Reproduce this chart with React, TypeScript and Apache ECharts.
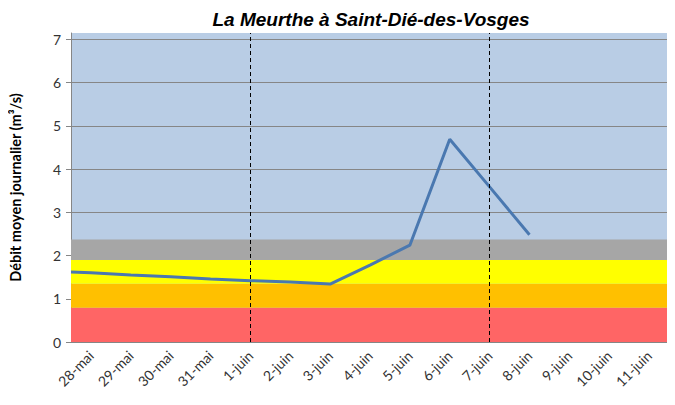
import React, { useEffect, useRef } from "react";
import * as echarts from "echarts";

const days = ["28-mai","29-mai","30-mai","31-mai","1-juin","2-juin","3-juin","4-juin","5-juin","6-juin","7-juin","8-juin","9-juin","10-juin","11-juin"];
// daily mean flow (m3/s) at each day; null = no data yet
const flow: (number | null)[] = [1.6, 1.55, 1.51, 1.46, 1.42, 1.39, 1.34, 1.78, 2.24, 4.69, 3.59, 2.48, null, null, null];
// value of the line where it enters the plot on the left edge
const flowLeftEdge = 1.62;
const yTicks = [0, 1, 2, 3, 4, 5, 6, 7];
const yTop = 7.15;
const bandLimits = [0, 0.79, 1.35, 1.9, 2.37];
const bandColors = ["#FF6565", "#FFC000", "#FFFF00", "#A6A6A6"];
const dashedDays = ["1-juin", "7-juin"];

export default function App() {
  const ref = useRef<HTMLDivElement>(null);
  useEffect(() => {
    const chart = echarts.init(ref.current!, undefined, { renderer: "svg" });
    const lineData: [number, number][] = [[-0.5, flowLeftEdge]];
    flow.forEach((v, i) => { if (v !== null) lineData.push([i, v]); });
    const bands = bandColors.map((c, i) => [
      { yAxis: bandLimits[i], itemStyle: { color: c, opacity: 1 } },
      { yAxis: bandLimits[i + 1] },
    ]);
    chart.setOption({
      animation: false,
      title: {
        text: "La Meurthe à Saint-Dié-des-Vosges",
        left: 366, top: 5, textAlign: "center",
        textStyle: { fontFamily: "Liberation Sans", fontSize: 19, fontWeight: "bold", fontStyle: "italic", color: "#000" },
      },
      grid: { left: 70, right: 6, top: 33, bottom: 63, show: true, backgroundColor: "#B9CDE5", borderWidth: 0 },
      xAxis: [
        {
          type: "category", data: days, boundaryGap: true,
          axisLine: { onZero: false, lineStyle: { color: "#868686" } },
          axisTick: { length: 5, lineStyle: { color: "#868686" } },
          axisLabel: { rotate: 45, interval: 0, fontFamily: "Lato", fontSize: 14, color: "#333", margin: 11 },
          splitLine: { show: false },
        },
        {
          type: "value", min: -0.5, max: days.length - 0.5, show: false,
          splitLine: { show: false },
        },
      ],
      yAxis: {
        type: "value", min: 0, max: yTop,
        name: "Débit moyen journalier (m³/s)", nameLocation: "middle", nameGap: 48, nameRotate: 90,
        nameTextStyle: { fontFamily: "Lato", fontSize: 14.5, fontWeight: "bold", color: "#000" },
        axisLine: { show: true, onZero: false, lineStyle: { color: "#868686" } },
        axisTick: { show: true, length: 5, customValues: yTicks, lineStyle: { color: "#868686" } },
        axisLabel: { customValues: yTicks, fontFamily: "Lato", fontSize: 14, color: "#333", margin: 10 },
        splitLine: { show: true, lineStyle: { color: "#868686", width: 1 } },
      },
      series: [
        {
          type: "line", xAxisIndex: 0, data: [], z: 2, silent: true,
          markArea: { silent: true, data: bands },
          markLine: {
            silent: true, symbol: "none", label: { show: false },
            lineStyle: { color: "#000", type: [4, 3], width: 1 },
            data: dashedDays.map((d) => ({ xAxis: d })),
          },
        },
        {
          type: "line", xAxisIndex: 1, data: lineData, z: 4,
          showSymbol: false, symbol: "none",
          lineStyle: { color: "#4A78B0", width: 3 },
        },
      ],
    });
    return () => chart.dispose();
  }, []);
  return <div ref={ref} style={{ width: 675, height: 405, margin: -8 }} />;
}
